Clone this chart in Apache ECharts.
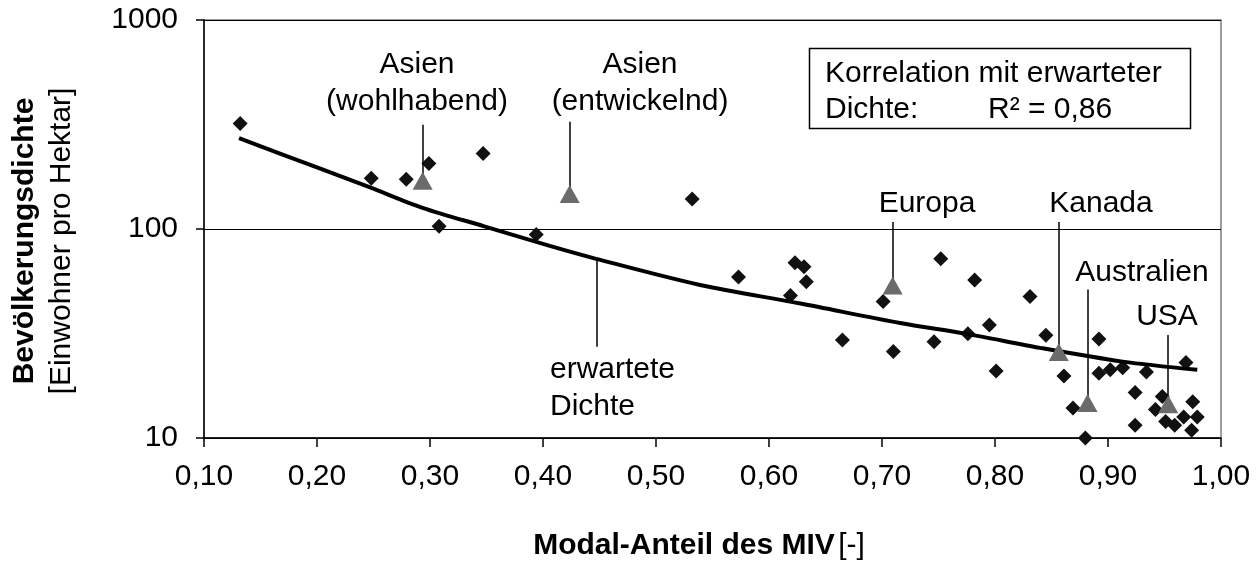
<!DOCTYPE html>
<html><head><meta charset="utf-8">
<script src="https://cdn.jsdelivr.net/npm/echarts@6/dist/echarts.min.js"></script>
<style>html,body{margin:0;padding:0;background:#fff}#c{width:1260px;height:563px}</style>
</head><body><div id="c"></div>
<script>
// Individual cities: modal share of car traffic (MIV) vs population density
const cityX = [0.132, 0.248, 0.279, 0.299, 0.347, 0.308, 0.394, 0.532, 0.573, 0.623, 0.631, 0.633, 0.619,
  0.701, 0.665, 0.710, 0.752, 0.782, 0.831, 0.746, 0.776, 0.795, 0.801, 0.845, 0.861, 0.892, 0.892, 0.902,
  0.913, 0.934, 0.969, 0.924, 0.948, 0.975, 0.942, 0.869, 0.880, 0.924, 0.951, 0.959, 0.967, 0.979, 0.974];
const cityY = [320, 175, 173, 206, 230, 103, 94, 139, 59, 69, 66, 56, 48,
  45, 29.4, 25.9, 72, 57, 47.5, 28.9, 31.5, 34.7, 20.9, 31, 19.8, 29.8, 20.4, 21.2,
  21.7, 20.7, 23, 16.5, 15.8, 14.9, 13.7, 13.9, 10.0, 11.5, 12.0, 11.5, 12.6, 12.6, 10.9];
// Regional averages
const regionNames = ['Asien (wohlhabend)', 'Asien (entwickelnd)', 'Europa', 'Kanada', 'Australien', 'USA'];
const regionX = [0.2935, 0.4236, 0.7094, 0.8564, 0.8819, 0.9533];
const regionY = [170, 147, 53.6, 25.8, 14.7, 14.5];
const calloutTop = [315, 326, 108, 108, 51.4, 31.1];
// Expected density curve
const curveX = [0.131, 0.20, 0.247, 0.294, 0.348, 0.406, 0.447, 0.539, 0.628, 0.716, 0.775, 0.840, 0.913, 0.979];
const curveY = [272, 197, 158, 126, 103, 83, 72, 54, 44, 35.5, 31.5, 27, 23.2, 21.2];
const curveCalloutX = 0.4472;
const curveCalloutY = [71.5, 27.3];
const yTicks = [10, 100, 1000];

const FONT = "'Liberation Sans', Arial, sans-serif";
const chart = echarts.init(document.getElementById('c'), null, {renderer: 'canvas'});

const lineData = regionX.map((x, i) => [{coord: [x, calloutTop[i]]}, {coord: [x, regionY[i]]}]);
lineData.push([{coord: [curveCalloutX, curveCalloutY[0]]}, {coord: [curveCalloutX, curveCalloutY[1]]}]);

function txt(x, y, text, align, extra) {
  return {
    type: 'text', x: x, y: y, z: 20,
    style: Object.assign({
      text: text, fill: '#000', font: '30px ' + FONT,
      align: align, textAlign: align, verticalAlign: 'middle', textVerticalAlign: 'middle', lineHeight: 37
    }, extra || {})
  };
}

chart.setOption({
  animation: false,
  backgroundColor: '#fff',
  grid: {left: 204, right: 39, top: 20, bottom: 125, show: true, borderColor: '#7f7f7f', borderWidth: 1.5},
  xAxis: {
    type: 'value', min: 0.1, max: 1.0, interval: 0.1,
    axisLine: {show: true, onZero: false, lineStyle: {color: '#000', width: 1.5}},
    axisTick: {show: true, inside: false, length: 9, lineStyle: {color: '#000', width: 1.5}},
    axisLabel: {color: '#000', fontFamily: FONT, fontSize: 30, margin: 24,
      formatter: v => v.toFixed(2).replace('.', ',')},
    splitLine: {show: false}
  },
  yAxis: {
    type: 'log', logBase: 10, min: yTicks[0], max: yTicks[yTicks.length - 1],
    axisLine: {show: true, lineStyle: {color: '#000', width: 1.5}},
    axisTick: {show: true, inside: false, length: 8, lineStyle: {color: '#000', width: 1.5}},
    axisLabel: {color: '#000', fontFamily: FONT, fontSize: 30, margin: 26,
      formatter: v => String(Math.round(v))},
    minorTick: {show: false},
    splitLine: {show: true, lineStyle: {color: '#000', width: 1.2}}
  },
  series: [
    {
      type: 'scatter', z: 2,
      data: cityX.map((x, i) => [x, cityY[i]]),
      symbol: 'diamond', symbolSize: [15, 15],
      itemStyle: {color: '#111', opacity: 1},
      markLine: {
        silent: true, symbol: ['none', 'none'], label: {show: false},
        lineStyle: {color: '#000', width: 1.5, type: 'solid', opacity: 1},
        data: lineData
      }
    },
    {
      type: 'line', z: 3,
      data: curveX.map((x, i) => [x, curveY[i]]),
      smooth: 0.3, showSymbol: false, symbol: 'none',
      lineStyle: {color: '#000', width: 4}
    },
    {
      type: 'scatter', z: 5,
      data: regionX.map((x, i) => ({name: regionNames[i], value: [x, regionY[i]]})),
      symbol: 'triangle', symbolSize: [20, 18],
      itemStyle: {color: '#6b6b6b', opacity: 1}
    }
  ],
  graphic: [
    txt(417, 83.5, 'Asien\n(wohlhabend)', 'center'),
    txt(640, 83.5, 'Asien\n(entwickelnd)', 'center'),
    txt(927, 204, 'Europa', 'center'),
    txt(1101, 204, 'Kanada', 'center'),
    txt(1142, 273, 'Australien', 'center'),
    txt(1167, 317, 'USA', 'center'),
    txt(550, 388.5, 'erwartete\nDichte', 'left'),
    {type: 'rect', z: 15, shape: {x: 809.5, y: 48.5, width: 381, height: 80},
      style: {fill: '#fff', stroke: '#000', lineWidth: 1.5}},
    txt(825, 74, 'Korrelation mit erwarteter', 'left'),
    txt(825, 110, 'Dichte:', 'left'),
    txt(988, 110, 'R² = 0,86', 'left'),
    {type: 'text', x: 699, y: 546, z: 20,
      style: {text: '{b|Modal-Anteil des MIV} {r|[-]}', align: 'center', textAlign: 'center',
        verticalAlign: 'middle', textVerticalAlign: 'middle', fill: '#000',
        rich: {b: {font: 'bold 30px ' + FONT, fill: '#000'}, r: {font: '30px ' + FONT, fill: '#000'}}}},
    {type: 'text', x: 25, y: 241, z: 20, rotation: Math.PI / 2,
      style: {text: 'Bevölkerungsdichte', font: 'bold 30px ' + FONT, fill: '#000',
        align: 'center', textAlign: 'center', verticalAlign: 'middle', textVerticalAlign: 'middle'}},
    {type: 'text', x: 62, y: 241, z: 20, rotation: Math.PI / 2,
      style: {text: '[Einwohner pro Hektar]', font: '30px ' + FONT, fill: '#000',
        align: 'center', textAlign: 'center', verticalAlign: 'middle', textVerticalAlign: 'middle'}}
  ]
});
</script>
</body></html>
